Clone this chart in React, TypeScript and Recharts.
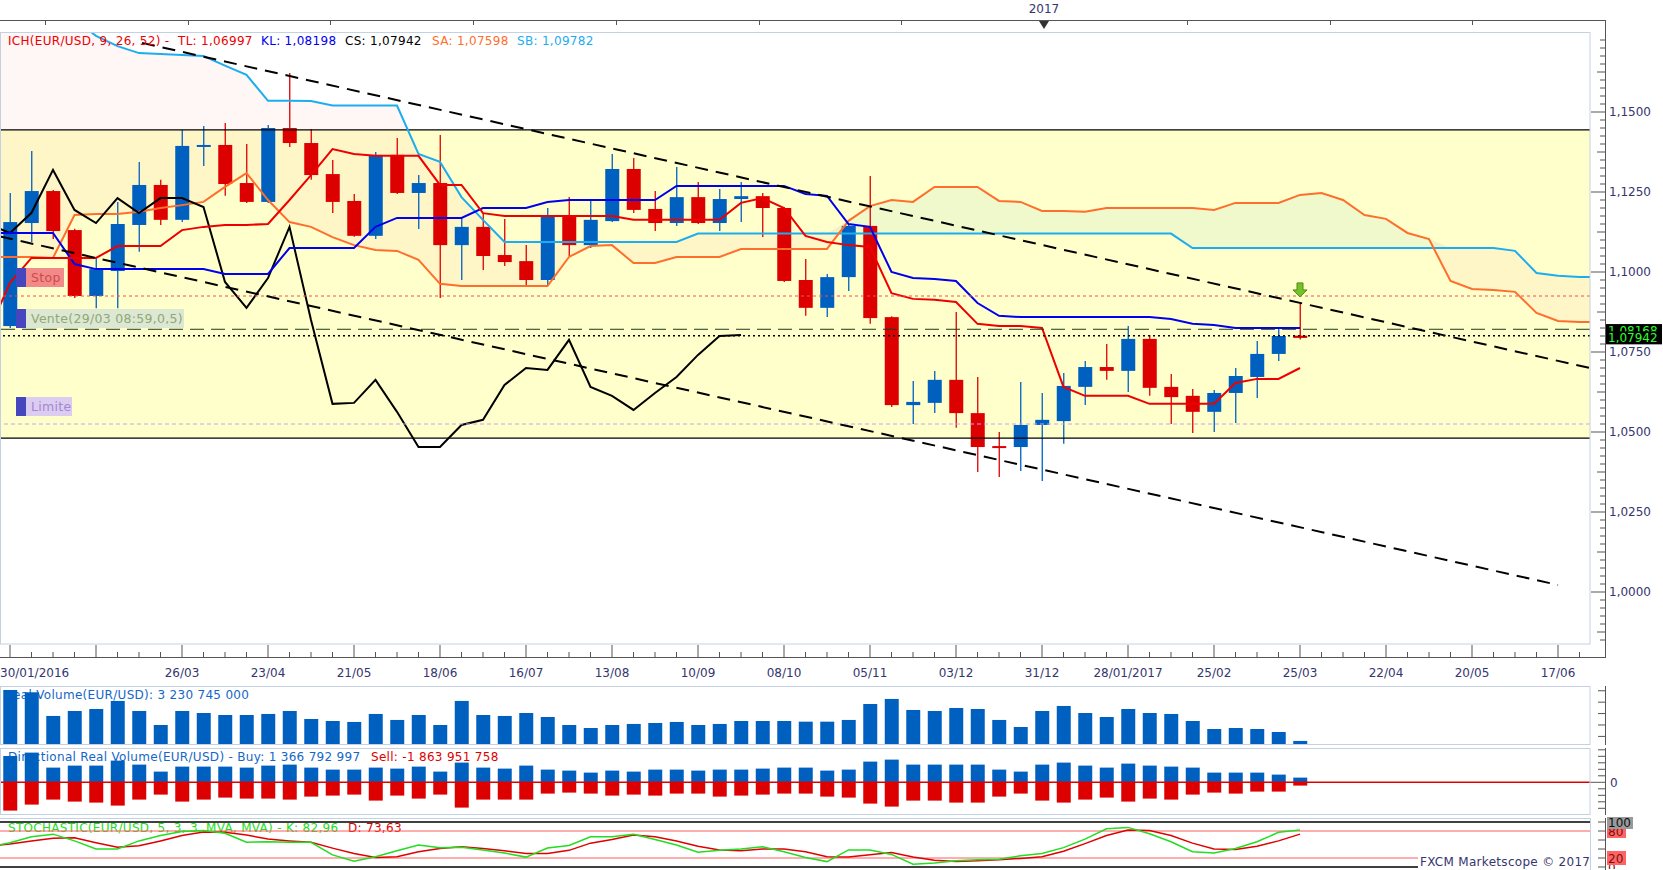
import React from 'react';
import {
  ComposedChart,
  Bar,
  Line,
  Area,
  XAxis,
  YAxis,
  ReferenceLine,
  ReferenceDot,
} from 'recharts';

const FONT = '"DejaVu Sans", Verdana, sans-serif';
const BLUE = '#0060C0';
const RED = '#DD0000';
const NAVY = '#35356E';
const FRAME = '#C3D1E2';

// weekly EUR/USD candles, week 0 = 30/01/2016, week 60 = 25/03/2017
const OPEN = [
  1.0831, 1.1153, 1.1253, 1.1131, 1.0925, 1.1003, 1.1147, 1.1272, 1.1163, 1.1391,
  1.1397, 1.1278, 1.1219, 1.145, 1.1403, 1.1306, 1.1222, 1.1113, 1.1366, 1.1247,
  1.1278, 1.1084, 1.1141, 1.1053, 1.1034, 1.0975, 1.1175, 1.1084, 1.1159, 1.1322,
  1.1197, 1.1153, 1.1234, 1.1153, 1.1228, 1.1237, 1.12, 1.0975, 1.0888, 1.0984,
  1.1144, 1.0859, 1.0584, 1.0591, 1.0663, 1.0559, 1.0456, 1.0453, 1.0522, 1.0534,
  1.0641, 1.0703, 1.0691, 1.0791, 1.0641, 1.0613, 1.0563, 1.0622, 1.0672, 1.0744, 1.0801,
];
const HIGH = [
  1.1247, 1.1378, 1.1256, 1.1135, 1.1044, 1.1219, 1.1344, 1.1288, 1.1444, 1.1456,
  1.1466, 1.14, 1.1459, 1.1622, 1.1447, 1.135, 1.1244, 1.1375, 1.1419, 1.1303,
  1.1428, 1.1169, 1.1184, 1.1166, 1.1084, 1.12, 1.1234, 1.1225, 1.1369, 1.1356,
  1.1253, 1.1328, 1.1281, 1.1259, 1.1281, 1.1247, 1.1203, 1.1041, 1.0994, 1.1147,
  1.13, 1.0862, 1.0659, 1.0691, 1.0875, 1.0672, 1.05, 1.0656, 1.0622, 1.0684,
  1.0722, 1.0775, 1.0831, 1.0803, 1.0681, 1.0634, 1.0631, 1.07, 1.0784, 1.0825, 1.0903,
];
const LOW = [
  1.0825, 1.1094, 1.1103, 1.0919, 1.0887, 1.0887, 1.1063, 1.1147, 1.1156, 1.1331,
  1.1238, 1.1216, 1.1216, 1.1391, 1.1288, 1.1184, 1.111, 1.1103, 1.1244, 1.1134,
  1.0919, 1.0975, 1.1006, 1.1019, 1.0956, 1.0956, 1.105, 1.1075, 1.1156, 1.1184,
  1.1128, 1.1144, 1.115, 1.1128, 1.1156, 1.1109, 1.0969, 1.0863, 1.0859, 1.0941,
  1.0838, 1.0578, 1.0525, 1.0559, 1.0513, 1.0375, 1.0359, 1.0378, 1.0347, 1.0463,
  1.0584, 1.0663, 1.0625, 1.0613, 1.0525, 1.0497, 1.05, 1.0528, 1.0606, 1.0722, 1.0789,
];
const CLOSE = [
  1.1156, 1.1253, 1.1128, 1.0925, 1.1009, 1.115, 1.1272, 1.1163, 1.1394, 1.1397,
  1.1275, 1.1219, 1.145, 1.1403, 1.1303, 1.1219, 1.1113, 1.1366, 1.1247, 1.1278,
  1.1084, 1.1141, 1.105, 1.1031, 1.0975, 1.1172, 1.1084, 1.1163, 1.1322, 1.1194,
  1.1153, 1.1234, 1.1153, 1.1228, 1.1237, 1.12, 1.0972, 1.0888, 1.0984, 1.1144,
  1.0856, 1.0584, 1.0594, 1.0663, 1.0559, 1.0453, 1.045, 1.0522, 1.0538, 1.0644,
  1.0703, 1.0691, 1.0791, 1.0638, 1.0609, 1.0563, 1.0622, 1.0675, 1.0744, 1.08, 1.0794,
];

// ichimoku lines, first value is the week before the first candle (k = -1)
const TENKAN = [
  1.0815, 1.0966, 1.1044, 1.1044, 1.1044, 1.1044, 1.1081, 1.1081, 1.1081, 1.1131,
  1.1141, 1.1147, 1.1147, 1.115, 1.1225, 1.1303, 1.1384, 1.1369, 1.1363, 1.1363,
  1.1363, 1.1272, 1.1272, 1.1184, 1.1175, 1.1175, 1.1175, 1.1175, 1.1175, 1.1175,
  1.1163, 1.1163, 1.1163, 1.1163, 1.1163, 1.1216, 1.1231, 1.12, 1.1113, 1.1094,
  1.1084, 1.1078, 1.0934, 1.0916, 1.0913, 1.0906, 1.0838, 1.0831, 1.0831, 1.0825,
  1.0641, 1.0613, 1.0613, 1.0613, 1.0588, 1.0588, 1.0588, 1.0588, 1.0653, 1.0666,
  1.0666, 1.07,
];
const KIJUN = [
  1.1122, 1.1122, 1.1122, 1.1122, 1.1025, 1.1009, 1.1009, 1.1009, 1.1009, 1.1009,
  1.1009, 1.0994, 1.0994, 1.0994, 1.1075, 1.1075, 1.1075, 1.1075, 1.1141, 1.1169,
  1.1169, 1.1169, 1.1169, 1.12, 1.12, 1.12, 1.1219, 1.1225, 1.1225, 1.1225,
  1.1225, 1.1225, 1.1269, 1.1269, 1.1269, 1.1269, 1.1269, 1.1269, 1.1244, 1.1238,
  1.115, 1.1141, 1.1, 1.0981, 1.0978, 1.0972, 1.0903, 1.0863, 1.0859, 1.0859,
  1.0859, 1.0859, 1.0859, 1.0859, 1.0859, 1.0853, 1.0838, 1.0834, 1.0825, 1.0825,
  1.0825, 1.0825,
];
const SPAN_A = [
  1.1047, 1.1047, 1.1047, 1.1044, 1.1178, 1.1181, 1.1181, 1.1188, 1.12, 1.1209,
  1.1219, 1.1266, 1.1309, 1.1225, 1.1156, 1.1141, 1.1109, 1.1084, 1.1069, 1.1066,
  1.1038, 1.0963, 1.0956, 1.0956, 1.0956, 1.0956, 1.0956, 1.1047, 1.1081, 1.1084,
  1.1028, 1.1028, 1.1047, 1.1047, 1.1047, 1.1072, 1.1072, 1.1072, 1.1072, 1.1072,
  1.116, 1.1206, 1.1225, 1.1219, 1.1266, 1.1266, 1.1266, 1.1222, 1.1219, 1.1191,
  1.1191, 1.1188, 1.12, 1.12, 1.12, 1.12, 1.12, 1.1194, 1.1216, 1.1216,
  1.1216, 1.1241, 1.1247, 1.1225, 1.1178, 1.1166, 1.1122, 1.1103, 1.0972, 1.0947,
  1.0944, 1.0938, 1.0872, 1.0847, 1.0844, 1.0844,
];
const SPAN_B = [
  1.1905, 1.188, 1.185, 1.182, 1.179, 1.1738, 1.1706, 1.1684, 1.1681, 1.1678,
  1.1675, 1.1645, 1.1616, 1.1535, 1.1535, 1.1534, 1.152, 1.152, 1.152, 1.152,
  1.1369, 1.1344, 1.1234, 1.1163, 1.1094, 1.1094, 1.1094, 1.1094, 1.1094, 1.1094,
  1.1094, 1.1094, 1.1094, 1.112, 1.112, 1.112, 1.112, 1.112, 1.112, 1.112,
  1.112, 1.112, 1.112, 1.112, 1.112, 1.112, 1.112, 1.112, 1.112, 1.112,
  1.112, 1.112, 1.112, 1.112, 1.112, 1.112, 1.1075, 1.1075, 1.1075, 1.1075,
  1.1075, 1.1075, 1.1075, 1.1075, 1.1075, 1.1075, 1.1075, 1.1075, 1.1075, 1.1075,
  1.1075, 1.1066, 1.0997, 1.0988, 1.0984, 1.0984,
];
const CHIKOU = [
  1.115, 1.1122, 1.1185, 1.1319, 1.1194, 1.1153, 1.1231, 1.1184, 1.1231, 1.1231,
  1.1203, 1.0969, 1.0888, 1.0981, 1.1141, 1.085, 1.0588, 1.0591, 1.0663, 1.0563,
  1.0453, 1.0453, 1.0522, 1.0538, 1.0647, 1.07, 1.0694, 1.0788, 1.0641, 1.0613,
  1.0569, 1.0622, 1.0672, 1.0741, 1.08, 1.0803,
];

// lower panels, one value per candle
const VOLUME = [
  56.8, 54.4, 29.5, 34.7, 36.8, 45.3, 34.7, 20.0, 34.7, 32.6,
  30.5, 30.5, 31.6, 34.7, 26.3, 24.2, 23.2, 31.6, 25.3, 30.5,
  20.0, 45.3, 30.5, 29.5, 32.6, 28.4, 20.0, 16.8, 20.0, 21.1,
  22.1, 23.2, 20.0, 21.1, 24.2, 24.2, 24.2, 23.5, 23.5, 25.3,
  42.1, 47.4, 35.8, 34.7, 37.9, 36.8, 25.3, 17.9, 34.7, 40.0,
  32.6, 28.4, 36.8, 32.6, 31.6, 24.2, 15.8, 16.8, 15.8, 12.6, 3.23,
];
const BUY = [
  26.3, 29.7, 14.7, 16.7, 16.7, 21.7, 17.7, 10.7, 15.7, 15.7,
  15.7, 14.7, 16.7, 17.7, 14.7, 12.7, 12.7, 14.7, 13.7, 15.7,
  10.7, 19.7, 14.7, 13.7, 16.7, 12.7, 11.7, 9.7, 11.7, 10.7,
  12.7, 12.7, 11.7, 12.7, 12.7, 13.7, 14.7, 14.7, 11.7, 12.7,
  20.7, 22.7, 17.7, 17.7, 17.7, 17.7, 12.7, 10.7, 17.7, 19.7,
  16.7, 14.7, 18.7, 16.7, 15.7, 14.7, 9.7, 9.7, 9.7, 7.7, 4.7,
];
const SELL = [
  28.3, 22.3, 17.3, 19.3, 20.3, 23.3, 17.3, 12.3, 19.3, 17.3,
  15.3, 16.3, 16.3, 17.3, 14.3, 13.3, 12.3, 18.3, 13.3, 16.3,
  12.3, 25.3, 17.3, 17.3, 17.3, 11.3, 10.3, 11.3, 13.3, 12.3,
  13.3, 11.3, 11.3, 14.3, 13.3, 12.3, 11.3, 11.3, 14.3, 15.3,
  21.3, 24.3, 18.3, 18.3, 20.3, 20.3, 14.3, 11.3, 18.3, 20.3,
  17.3, 15.3, 19.3, 16.3, 17.3, 12.3, 10.3, 11.3, 9.3, 9.3, 3.3,
];
// stochastic, first value is k = -1
const STOCH_K = [
  44, 54, 67, 73, 58, 40, 40, 58, 70, 79, 81, 75, 55, 56, 55, 55, 27, 13, 23, 36,
  49, 43, 44, 38, 31, 22, 42, 48, 67, 67, 73, 61, 49, 33, 37, 40, 45, 34, 21, 12,
  38, 38, 28, 6, 9, 14, 16, 17, 25, 30, 43, 62, 85, 88, 74, 56, 34, 31, 41, 56,
  77, 82,
];
const STOCH_D = [
  47, 51, 58, 64, 65, 54, 44, 47, 58, 70, 78, 77, 71, 62, 58, 55, 42, 30, 21, 23,
  34, 41, 45, 41, 36, 30, 30, 37, 53, 61, 71, 67, 58, 46, 38, 36, 40, 40, 34, 23,
  22, 27, 32, 22, 15, 12, 14, 16, 19, 23, 35, 52, 70, 82, 81, 70, 53, 40, 39, 46,
  58, 73,
];

const DATE_LABELS: Record<number, string> = {
  0: '30/01/2016', 8: '26/03', 12: '23/04', 16: '21/05', 20: '18/06', 24: '16/07',
  28: '13/08', 32: '10/09', 36: '08/10', 40: '05/11', 44: '03/12', 48: '31/12',
  52: '28/01/2017', 56: '25/02', 60: '25/03', 64: '22/04', 68: '20/05', 72: '17/06',
};
const PRICE_LABELS = [1.0, 1.025, 1.05, 1.075, 1.1, 1.125, 1.15];

// drawn objects (price levels and trend lines in week / price units)
const RANGE_BOX: [number, number] = [1.0481, 1.1444];
const STOP_LEVEL = 1.0925;
const ORDER_LEVEL = 1.0821;
const ENTRY_LEVEL = 1.0801;
const LIMIT_LEVEL = 1.0525;
const ORDER_TAG = 1.0817;
const LAST_PRICE = 1.07942;
const ARROW_PRICE = 1.0944;
const UPPER_TREND = [{ x: 6.14, y: 1.1716 }, { x: 73.48, y: 1.07 }];
const LOWER_TREND = [{ x: -0.46, y: 1.1111 }, { x: 72.0, y: 1.0022 }];

const X_DOMAIN: [number, number] = [-10 / 21.5, 1580 / 21.5];
const Y_DOMAIN: [number, number] = [0.98375, 1.1746875];
const WEEK_TICKS = Array.from({ length: 74 }, (_, i) => i);
const PRICE_TICKS = Array.from({ length: 76 }, (_, i) => Math.round((0.985 + i * 0.0025) * 10000) / 10000);
const TOP_RULER = [45, 188, 330, 473, 616, 759, 901, 1044, 1187, 1330, 1472];

const mainRows = Array.from({ length: 76 }, (_, i) => {
  const k = i - 1;
  const has = k >= 0 && k < OPEN.length;
  return {
    k,
    o: has ? OPEN[k] : null,
    h: has ? HIGH[k] : null,
    l: has ? LOW[k] : null,
    c: has ? CLOSE[k] : null,
    tl: TENKAN[i] ?? null,
    kl: KIJUN[i] ?? null,
    sa: SPAN_A[i] ?? null,
    sb: SPAN_B[i] ?? null,
    cs: CHIKOU[i] ?? null,
  };
});

const volRows = OPEN.map((_, k) => ({ k, vol: VOLUME[k], buy: BUY[k], sell: -SELL[k] }));
const stochRows = STOCH_K.map((v, i) => ({ k: i - 1, sk: v, sd: STOCH_D[i] }));

const Candle = (props: any) => {
  const { x, y, width, height, payload } = props;
  if (payload == null || payload.o == null) return null;
  const { o, h, l, c } = payload;
  const span = h - l || 1e-9;
  const py = (v: number) => y + ((h - v) / span) * height;
  const color = c >= o ? BLUE : RED;
  const top = py(Math.max(o, c));
  const bot = py(Math.min(o, c));
  const cx = x + width / 2;
  return (
    <g>
      <line x1={cx} x2={cx} y1={y} y2={y + height} stroke={color} strokeWidth={1.3} />
      <rect x={x} y={top} width={width} height={Math.max(bot - top, 2)} fill={color} />
    </g>
  );
};

const DateTick = (props: any) => {
  const { x, y, payload } = props;
  const k = payload.value as number;
  const major = k % 4 === 0;
  const label = DATE_LABELS[k];
  return (
    <g>
      <line x1={x} x2={x} y1={major ? y + 1 : y + 8} y2={y + 13} stroke="#555" />
      {label && (
        <text
          x={k === 0 ? x - 10 : x}
          y={y + 33}
          textAnchor={k === 0 ? 'start' : 'middle'}
          fill={NAVY}
          fontSize={12}
          fontFamily={FONT}
        >
          {label}
        </text>
      )}
    </g>
  );
};

const PriceTick = (props: any) => {
  const { x, y, payload } = props;
  const v = payload.value as number;
  const major = PRICE_LABELS.some((m) => Math.abs(m - v) < 1e-6);
  const mid = !major && Math.abs(Math.round(v / 0.0125) * 0.0125 - v) < 1e-6;
  const len = major ? 14 : mid ? 8 : 5;
  return (
    <g>
      <line x1={x + 15 - len} x2={x + 15} y1={y} y2={y} stroke="#555" />
      {major && (
        <text x={x + 19} y={y + 4} fill={NAVY} fontSize={12} fontFamily={FONT}>
          {v.toFixed(4).replace('.', ',')}
        </text>
      )}
    </g>
  );
};

const SmallTick = (props: any) => {
  const { x, y, payload } = props;
  const zero = payload.value === 0;
  return (
    <g>
      <line x1={zero ? x : x + 8} x2={x + 15} y1={y} y2={y} stroke="#555" />
      {zero && (
        <text x={x + 20} y={y + 5} fill={NAVY} fontSize={12} fontFamily={FONT}>
          0
        </text>
      )}
    </g>
  );
};

const StochTick = (props: any) => {
  const { x, y, payload } = props;
  const v = payload.value as number;
  const box = v === 100 ? '#9A9A9A' : v === 80 || v === 20 ? '#FF6464' : null;
  return (
    <g>
      <line x1={x + 8} x2={x + 15} y1={y} y2={y} stroke="#555" />
      {box && <rect x={x + 17} y={y - 7} width={v === 100 ? 26 : 19} height={14} fill={box} />}
      {(box || v === 0) && (
        <text x={x + 18} y={y + 5} fill={v === 100 ? '#111' : '#7A1010'} fontSize={12} fontFamily={FONT}>
          {v}
        </text>
      )}
    </g>
  );
};

const PriceBox = (props: any) => {
  const { viewBox, text } = props;
  if (!viewBox) return null;
  const bx = viewBox.x + viewBox.width + 16;
  const by = viewBox.y;
  return (
    <g>
      <rect x={bx} y={by - 6.5} width={56} height={13} fill="#000" />
      <text x={bx + 2} y={by + 4.5} fill="#2EFF2E" fontSize={12} fontFamily={FONT}>
        {text}
      </text>
    </g>
  );
};

const Arrow = (props: any) => {
  const { cx, cy } = props;
  if (cx == null || cy == null) return null;
  const pts = [
    [cx - 3, cy - 7], [cx + 3, cy - 7], [cx + 3, cy], [cx + 7, cy],
    [cx, cy + 7], [cx - 7, cy], [cx - 3, cy],
  ].map((p) => p.join(',')).join(' ');
  return <polygon points={pts} fill="#77C22A" stroke="#4C8C12" strokeWidth={1} />;
};

const Tag = ({ x, y, w, label, bg, color }: any) => (
  <g>
    <rect x={x} y={y} width={10} height={19} fill="#4646BE" />
    <rect x={x + 10} y={y} width={w} height={19} fill={bg} />
    <text x={x + 15} y={y + 14} fill={color} fontSize={12.5} fontFamily={FONT} letterSpacing={0.3}>
      {label}
    </text>
  </g>
);

export default function App() {
  return (
    <div style={{ position: 'absolute', left: 0, top: 0, width: 1663, height: 870, background: '#fff', fontFamily: FONT }}>
      {/* texts that sit underneath the lower panel bars */}
      <svg width={1663} height={870} style={{ position: 'absolute', left: 0, top: 0 }}>
        <text x={5} y={699} fontSize={12} letterSpacing={0.3} fill="#1566C8">
          Real Volume(EUR/USD): 3 230 745 000
        </text>
        <text x={8} y={761} fontSize={12} letterSpacing={0.3} fill="#1566C8">
          Directional Real Volume(EUR/USD) -  Buy: 1 366 792 997
        </text>
        <text x={371} y={761} fontSize={12} letterSpacing={0.3} fill="#E00000">
          Sell: -1 863 951 758
        </text>
        <text x={8} y={832} fontSize={12} letterSpacing={0.3} fill="#22DD22">
          STOCHASTIC(EUR/USD, 5, 3, 3, MVA, MVA) -  K: 82,96
        </text>
        <text x={348} y={832} fontSize={12} letterSpacing={0.3} fill="#E00000">
          D: 73,63
        </text>
      </svg>

      <div style={{ position: 'absolute', left: 0, top: 0 }}>
        <ComposedChart width={1663} height={682} data={mainRows} margin={{ top: 33, right: 0, bottom: 0, left: 0 }}>
          <XAxis
            dataKey="k"
            type="number"
            domain={X_DOMAIN}
            allowDataOverflow
            ticks={WEEK_TICKS}
            interval={0}
            tick={<DateTick />}
            axisLine={false}
            tickLine={false}
            tickSize={0}
            tickMargin={0}
            height={38}
          />
          <YAxis
            orientation="right"
            type="number"
            domain={Y_DOMAIN}
            allowDataOverflow
            ticks={PRICE_TICKS}
            interval={0}
            tick={<PriceTick />}
            axisLine={false}
            tickLine={false}
            tickSize={0}
            tickMargin={0}
            width={73}
          />
          <Area dataKey={() => RANGE_BOX} fill="#FFFFCC" fillOpacity={1} stroke="none" isAnimationActive={false} />
          <Area
            dataKey={(r: any) => (r.sa == null ? null : r.sb >= r.sa ? [r.sa, r.sb] : [r.sa, r.sa])}
            fill="rgb(255,150,150)"
            fillOpacity={0.09}
            stroke="none"
            isAnimationActive={false}
          />
          <Area
            dataKey={(r: any) => (r.sa == null ? null : r.sa > r.sb ? [r.sb, r.sa] : [r.sb, r.sb])}
            fill="rgb(160,220,200)"
            fillOpacity={0.16}
            stroke="none"
            isAnimationActive={false}
          />
          <ReferenceLine y={RANGE_BOX[1]} stroke="#000" strokeWidth={1.2} ifOverflow="hidden" />
          <ReferenceLine y={RANGE_BOX[0]} stroke="#000" strokeWidth={1.2} ifOverflow="hidden" />
          <Line dataKey="sb" stroke="#1CADF0" strokeWidth={2} dot={false} isAnimationActive={false} />
          <Line dataKey="sa" stroke="#FF6E2C" strokeWidth={2} dot={false} isAnimationActive={false} />
          <Line dataKey="cs" stroke="#000" strokeWidth={2} dot={false} isAnimationActive={false} />
          <Line dataKey="kl" stroke="#0000EE" strokeWidth={2} dot={false} isAnimationActive={false} />
          <Line dataKey="tl" stroke="#EE0000" strokeWidth={2} dot={false} isAnimationActive={false} />
          <Bar
            dataKey={(r: any) => (r.o == null ? null : [r.l, r.h])}
            barSize={14}
            shape={(p: any) => <Candle {...p} />}
            isAnimationActive={false}
          />
          <ReferenceLine y={STOP_LEVEL} stroke="#F05050" strokeDasharray="3 3" ifOverflow="hidden" />
          <ReferenceLine y={LIMIT_LEVEL} stroke="#C8A0F0" strokeDasharray="4 3" ifOverflow="hidden" />
          <ReferenceLine y={ORDER_LEVEL} stroke="#1E3A1E" strokeDasharray="14 7" ifOverflow="hidden" />
          <ReferenceLine y={ENTRY_LEVEL} stroke="#000" strokeWidth={1.6} strokeDasharray="2 3" ifOverflow="hidden" />
          <ReferenceLine segment={UPPER_TREND} stroke="#000" strokeWidth={2} strokeDasharray="13 8" ifOverflow="hidden" />
          <ReferenceLine segment={LOWER_TREND} stroke="#000" strokeWidth={2} strokeDasharray="13 8" ifOverflow="hidden" />
          <ReferenceLine y={ORDER_TAG} stroke="none" ifOverflow="visible" label={<PriceBox text="1,08168" />} />
          <ReferenceLine y={LAST_PRICE} stroke="none" ifOverflow="visible" label={<PriceBox text="1,07942" />} />
          <ReferenceDot x={60} y={ARROW_PRICE} ifOverflow="visible" shape={(p: any) => <Arrow {...p} />} />
        </ComposedChart>
      </div>

      <div style={{ position: 'absolute', left: 0, top: 686 }}>
        <ComposedChart width={1663} height={58} data={volRows} margin={{ top: 0, right: 0, bottom: 0, left: 0 }}>
          <XAxis dataKey="k" type="number" domain={X_DOMAIN} allowDataOverflow ticks={WEEK_TICKS} hide />
          <YAxis
            orientation="right"
            domain={[0, 61]}
            allowDataOverflow
            ticks={[8, 20, 32, 44, 56]}
            interval={0}
            tick={<SmallTick />}
            axisLine={false}
            tickLine={false}
            tickSize={0}
            tickMargin={0}
            width={73}
          />
          <Bar dataKey="vol" fill={BLUE} barSize={14} isAnimationActive={false} />
        </ComposedChart>
      </div>

      <div style={{ position: 'absolute', left: 0, top: 748 }}>
        <ComposedChart
          width={1663}
          height={66}
          data={volRows}
          stackOffset="sign"
          margin={{ top: 0, right: 0, bottom: 0, left: 0 }}
        >
          <XAxis dataKey="k" type="number" domain={X_DOMAIN} allowDataOverflow ticks={WEEK_TICKS} hide />
          <YAxis
            orientation="right"
            domain={[-31.7, 34.3]}
            allowDataOverflow
            ticks={[-26, -19.5, -13, -6.5, 0, 6.5, 13, 19.5, 26, 32.5]}
            interval={0}
            tick={<SmallTick />}
            axisLine={false}
            tickLine={false}
            tickSize={0}
            tickMargin={0}
            width={73}
          />
          <Bar dataKey="buy" stackId="d" fill={BLUE} barSize={14} isAnimationActive={false} />
          <Bar dataKey="sell" stackId="d" fill={RED} barSize={14} isAnimationActive={false} />
          <ReferenceLine y={0} stroke="#E00000" strokeWidth={1.5} />
        </ComposedChart>
      </div>

      <div style={{ position: 'absolute', left: 0, top: 817 }}>
        <ComposedChart width={1663} height={52} data={stochRows} margin={{ top: 5, right: 0, bottom: 2, left: 0 }}>
          <XAxis dataKey="k" type="number" domain={X_DOMAIN} allowDataOverflow ticks={WEEK_TICKS} hide />
          <YAxis
            orientation="right"
            domain={[0, 100]}
            allowDataOverflow
            ticks={[0, 20, 40, 60, 80, 100]}
            interval={0}
            tick={<StochTick />}
            axisLine={false}
            tickLine={false}
            tickSize={0}
            tickMargin={0}
            width={73}
          />
          <ReferenceLine y={100} stroke="#000" strokeWidth={1.6} />
          <ReferenceLine y={0} stroke="#000" strokeWidth={1.6} />
          <ReferenceLine y={80} stroke="#FF5A5A" />
          <ReferenceLine y={20} stroke="#FF5A5A" />
          <Line dataKey="sd" stroke="#E00000" strokeWidth={1.5} dot={false} isAnimationActive={false} />
          <Line dataKey="sk" stroke="#22DD22" strokeWidth={1.5} dot={false} isAnimationActive={false} />
        </ComposedChart>
      </div>

      {/* frames, rulers and captions on top */}
      <svg width={1663} height={870} style={{ position: 'absolute', left: 0, top: 0, pointerEvents: 'none' }} fontFamily={FONT}>
        <line x1={0} x2={1605} y1={20.5} y2={20.5} stroke="#555" />
        {TOP_RULER.map((x) => (
          <line key={x} x1={x + 0.5} x2={x + 0.5} y1={20} y2={25} stroke="#555" />
        ))}
        <text x={1044} y={13} textAnchor="middle" fill={NAVY} fontSize={12}>
          2017
        </text>
        <polygon points="1039,21 1049,21 1044,29" fill="#333" />

        <rect x={0.5} y={32.5} width={1589.5} height={611.5} fill="none" stroke={FRAME} />
        <line x1={1605.5} x2={1605.5} y1={20} y2={658} stroke="#555" />
        <line x1={0} x2={1606} y1={657.5} y2={657.5} stroke="#555" />

        <rect x={0.5} y={686.5} width={1589.5} height={58} fill="none" stroke={FRAME} />
        <line x1={1605.5} x2={1605.5} y1={686} y2={745} stroke="#555" />
        <rect x={0.5} y={748.5} width={1589.5} height={66} fill="none" stroke={FRAME} />
        <line x1={1605.5} x2={1605.5} y1={748} y2={815} stroke="#555" />
        <line x1={0} x2={1590} y1={818.5} y2={818.5} stroke={FRAME} />
        <line x1={1590.5} x2={1590.5} y1={818} y2={870} stroke={FRAME} />
        <line x1={1605.5} x2={1605.5} y1={818} y2={870} stroke="#555" />

        <text x={8} y={45} fontSize={12} letterSpacing={0.3}>
          <tspan fill="#EE0000">ICH(EUR/USD, 9, 26, 52) -</tspan>
          <tspan x={178} fill="#EE0000">TL: 1,06997</tspan>
          <tspan x={261} fill="#0000EE">KL: 1,08198</tspan>
          <tspan x={345} fill="#000">CS: 1,07942</tspan>
          <tspan x={432} fill="#FF6E2C">SA: 1,07598</tspan>
          <tspan x={517} fill="#1CADF0">SB: 1,09782</tspan>
        </text>

        <Tag x={16} y={268} w={38} label="Stop" bg="#F28A8A" color="#CF4A4A" />
        <Tag x={16} y={309} w={158} label="Vente(29/03 08:59,0,5)" bg="#DDE8D2" color="#90A777" />
        <Tag x={16} y={397} w={46} label="Limite" bg="#DCCDF0" color="#A486D6" />

        <rect x={1418} y={852} width={172} height={17} fill="#fff" />
        <text x={1420} y={866} fontSize={12} letterSpacing={0.3} fill={NAVY}>
          FXCM Marketscope © 2017
        </text>
      </svg>
    </div>
  );
}
